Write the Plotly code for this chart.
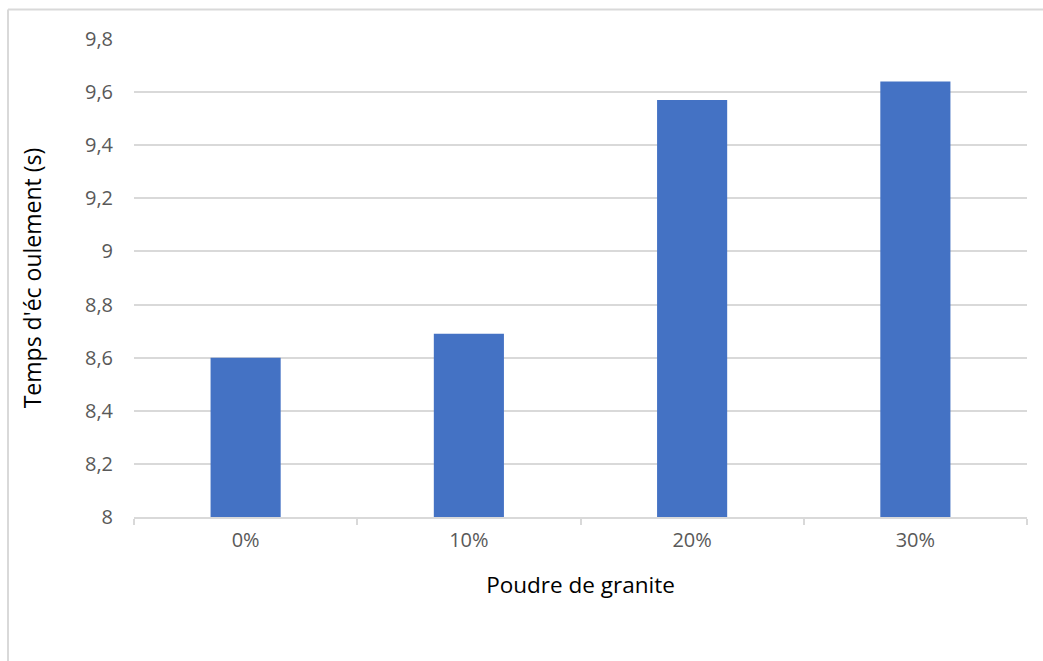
import plotly.graph_objects as go

# Poudre de granite (%) vs. temps d'écoulement (s)
categories = ["0%", "10%", "20%", "30%"]
temps_ecoulement = [8.6, 8.69, 9.57, 9.64]
y_ticks = [8, 8.2, 8.4, 8.6, 8.8, 9, 9.2, 9.4, 9.6, 9.8]
y_tick_labels = ["8", "8,2", "8,4", "8,6", "8,8", "9", "9,2", "9,4", "9,6", "9,8"]

W, H = 1043, 661
L, R, T, B = 134, 16, 39, 144
pw, ph = W - L - R, H - T - B

fig = go.Figure(
    go.Bar(
        x=categories,
        y=temps_ecoulement,
        marker=dict(color="#4472C4", line=dict(width=0)),
    )
)

font_family = "Open Sans, Noto Sans, sans-serif"

fig.update_layout(
    width=W,
    height=H,
    margin=dict(l=L, r=R, t=T, b=B, autoexpand=False),
    paper_bgcolor="white",
    plot_bgcolor="white",
    bargap=0.686,
    showlegend=False,
    font=dict(family=font_family, size=20, color="#595959"),
    xaxis=dict(
        showline=True,
        linecolor="#d9d9d9",
        linewidth=1.5,
        ticks="outside",
        tickson="boundaries",
        ticklen=6,
        tickcolor="#d9d9d9",
        tickwidth=1.5,
        showgrid=False,
        tickfont=dict(size=20, color="#595959"),
        ticklabelstandoff=4,
        title=dict(text="Poudre de granite", font=dict(size=22.5, color="#000000"), standoff=25),
    ),
    yaxis=dict(
        range=[8, 9.8],
        tickvals=y_ticks,
        ticktext=y_tick_labels,
        showgrid=True,
        gridcolor="#d9d9d9",
        gridwidth=1.5,
        showline=False,
        zeroline=False,
        ticks="",
        tickfont=dict(size=20, color="#595959"),
        ticklabelstandoff=20,
        title=dict(text="Temps d'éc oulement (s)", font=dict(size=23, color="#000000"), standoff=36),
    ),
)

# Chart frame (top and left edges visible in the window)
x_left = (8 - L) / pw
y_top = 1 + (T - 9.5) / ph
fig.add_shape(type="line", xref="paper", yref="paper",
              x0=x_left, x1=x_left, y0=-0.4, y1=y_top,
              line=dict(color="#d9d9d9", width=2))
fig.add_shape(type="line", xref="paper", yref="paper",
              x0=x_left, x1=1.1, y0=y_top, y1=y_top,
              line=dict(color="#d9d9d9", width=2))

fig.write_html("out.html")
